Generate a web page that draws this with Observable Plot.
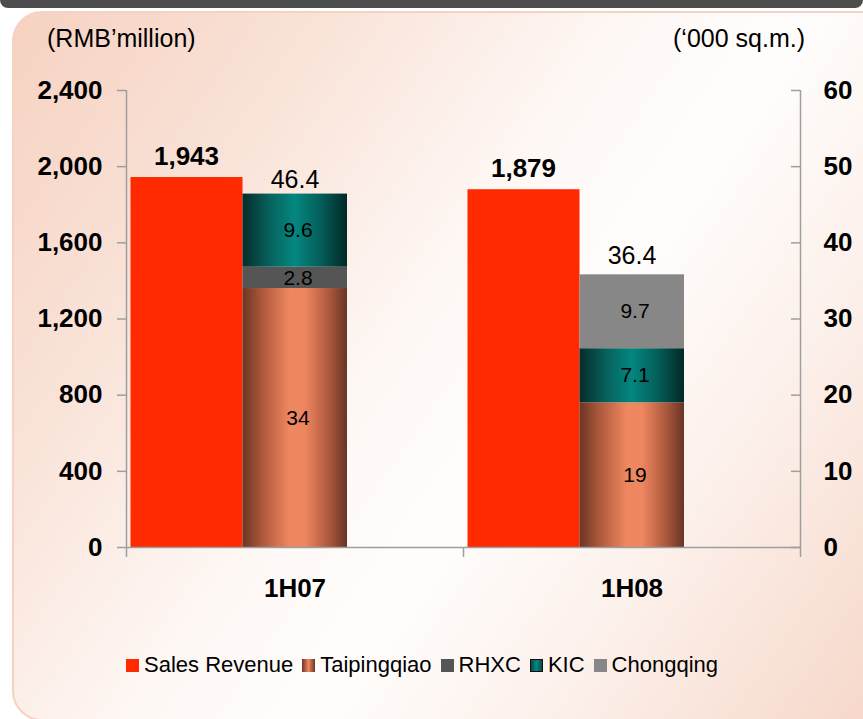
<!DOCTYPE html>
<html>
<head>
<meta charset="utf-8">
<script src="https://cdn.jsdelivr.net/npm/d3@7"></script>
<script src="https://cdn.jsdelivr.net/npm/@observablehq/plot@0.6"></script>
<style>
  html, body { margin: 0; padding: 0; background: #ffffff; }
  body { width: 863px; height: 719px; overflow: hidden; position: relative; font-family: "Liberation Sans", Arial, sans-serif; }
  #topbar { position: absolute; left: 0; top: 0; width: 863px; height: 8px; background: #4d4d4d; border-radius: 0 0 9px 9px; }
  #panel { position: absolute; left: 12px; top: 11px; width: 880px; height: 706px; border: 2px solid #f6d2c3; border-radius: 30px;
    background: linear-gradient(125deg, #f6d2c1 0%, #f9e2d7 22%, #fef8f5 45%, #fffdfc 58%, #fcf0ea 75%, #f6d6c8 100%); }
  .title { position: absolute; top: 23px; font-size: 25px; line-height: 30px; color: #000; }
  #chart { position: absolute; left: 0; top: 60px; }
  #legend { position: absolute; left: 126px; top: 653px; display: flex; align-items: center; font-size: 22px; line-height: 24px; color: #000; white-space: nowrap; }
  #legend .item { display: flex; align-items: center; margin-right: 9px; }
  #legend .sw { width: 13px; height: 13px; margin-right: 5px; box-sizing: border-box; }
</style>
</head>
<body>
<div id="topbar"></div>
<div id="panel"></div>
<div class="title" style="left:47px">(RMB’million)</div>
<div class="title" style="right:58px">(‘000 sq.m.)</div>
<div id="chart"></div>
<div id="legend"></div>
<script>
// ---- data ----
const periods = ["1H07", "1H08"];
const salesRevenue = [1943, 1879];            // RMB million (left axis)
const regions = ["Taipingqiao", "RHXC", "KIC", "Chongqing"];
const taipingqiao = [34, 19];                 // '000 sq.m. (right axis)
const rhxc = [2.8, 0];
const kic = [9.6, 7.1];
const chongqing = [0, 9.7];
const areaTotals = [46.4, 36.4];
const leftTicks = [0, 400, 800, 1200, 1600, 2000, 2400];
const rightTicks = [0, 10, 20, 30, 40, 50, 60];
const legendLabels = ["Sales Revenue", "Taipingqiao", "RHXC", "KIC", "Chongqing"];

// ---- styles ----
const W = 863, H = 570, mL = 126, mR = 63, mT = 30, mB = 83;
const bw = (W - mL - mR) / periods.length;
const ratio = leftTicks[leftTicks.length - 1] / rightTicks[rightTicks.length - 1];
const revColor = "#ff2a00";
const regionFill = {Taipingqiao: "url(#grad-tpq)", RHXC: "#555555", KIC: "url(#grad-kic)", Chongqing: "#878787"};
const regionValues = {Taipingqiao: taipingqiao, RHXC: rhxc, KIC: kic, Chongqing: chongqing};
const axisGray = "#9e9e9e";
const font = "Liberation Sans, Arial, sans-serif";

const rows = [];
periods.forEach((p, i) => regions.forEach(r => {
  const v = regionValues[r][i];
  if (v > 0) rows.push({period: p, region: r, value: v});
}));

const chart = Plot.plot({
  width: W, height: H,
  marginLeft: mL, marginRight: mR, marginTop: mT, marginBottom: mB,
  style: {background: "transparent", fontFamily: font, overflow: "visible"},
  x: {domain: periods, padding: 0, axis: null},
  y: {domain: [0, 2400], axis: null},
  color: {type: "identity"},
  marks: [
    // sales revenue bars
    Plot.barY(periods, {x: d => d, y: (d, i) => salesRevenue[i], fill: revColor, insetLeft: 4.5, insetRight: bw - 116.5}),
    // stacked area bars
    Plot.barY(rows, Plot.stackY({x: "period", y: d => d.value * ratio, z: "region", order: regions,
      fill: d => regionFill[d.region], insetLeft: 116.5, insetRight: 116})),
    Plot.text(rows, Plot.stackY({x: "period", y: d => d.value * ratio, z: "region", order: regions,
      text: d => String(d.value), fontSize: 21, fill: "#000", dx: 3})),
    // totals
    Plot.text(periods, {x: d => d, y: (d, i) => areaTotals[i] * ratio, text: (d, i) => areaTotals[i].toFixed(1),
      lineAnchor: "bottom", dy: -6, fontSize: 25, fill: "#000"}),
    // revenue labels
    Plot.text(periods, {x: d => d, y: (d, i) => salesRevenue[i], text: (d, i) => d3.format(",")(salesRevenue[i]),
      lineAnchor: "bottom", dx: -108.5, dy: -13, fontSize: 26, fontWeight: "bold", fill: "#000"}),
    // axis lines
    Plot.ruleY([0], {stroke: axisGray, strokeWidth: 1.5}),
    Plot.ruleX([periods[0]], {x: d => d, dx: -bw / 2, y1: 0, y2: 2400, stroke: axisGray, strokeWidth: 1.5}),
    Plot.ruleX([periods[periods.length - 1]], {x: d => d, dx: bw / 2, y1: 0, y2: 2400, stroke: axisGray, strokeWidth: 1.5}),
    // left axis
    Plot.axisY(leftTicks, {anchor: "left", tickSize: 9, tickFormat: () => "", stroke: axisGray, strokeWidth: 1.5, label: null}),
    Plot.axisY(leftTicks, {anchor: "left", tickSize: 0, tickPadding: 24, tickFormat: d3.format(","), fontSize: 26, fontWeight: "bold", fill: "#000", label: null}),
    // right axis (ticks point inward)
    Plot.axisY(leftTicks, {anchor: "left", tickSize: 9, tickFormat: () => "", dx: bw * periods.length, stroke: axisGray, strokeWidth: 1.5, label: null}),
    Plot.axisY(leftTicks, {anchor: "right", tickSize: 0, tickPadding: 23, tickFormat: d => String(d / ratio), textAnchor: "start", fontSize: 26, fontWeight: "bold", fill: "#000", label: null}),
    // category axis
    Plot.axisX(periods, {anchor: "bottom", tickSize: 10, dx: -bw / 2, tickFormat: () => "", stroke: axisGray, strokeWidth: 1.5, label: null}),
    Plot.axisX([periods[periods.length - 1]], {anchor: "bottom", tickSize: 10, dx: bw / 2, tickFormat: () => "", stroke: axisGray, strokeWidth: 1.5, label: null}),
    Plot.axisX(periods, {anchor: "bottom", tickSize: 0, tickPadding: 31, fontSize: 26, fontWeight: "bold", fill: "#000", label: null})
  ]
});

// gradients for the textured bars
const defs = d3.select(chart).insert("defs", ":first-child");
function addGrad(id, stops) {
  const g = defs.append("linearGradient").attr("id", id).attr("x1", 0).attr("x2", 1).attr("y1", 0).attr("y2", 0);
  stops.forEach(([o, c]) => g.append("stop").attr("offset", o).attr("stop-color", c));
}
addGrad("grad-tpq", [[0, "#6c3526"], [0.2, "#b05a3c"], [0.45, "#ef8760"], [0.6, "#ee8660"], [0.82, "#ae5a3d"], [1, "#693426"]]);
addGrad("grad-kic", [[0, "#052c2a"], [0.25, "#08605c"], [0.5, "#03877f"], [0.75, "#045d59"], [1, "#022927"]]);
document.getElementById("chart").appendChild(chart);

// legend
const swatchCss = {
  "Sales Revenue": `background:${revColor}`,
  "Taipingqiao": "background:linear-gradient(to right,#6c3526,#ef8760 50%,#693426)",
  "RHXC": "background:#555555",
  "KIC": "background:linear-gradient(to right,#0a4a47,#03877f 50%,#0a4a47);border:1.5px solid #111",
  "Chongqing": "background:#878787"
};
const legend = d3.select("#legend");
legendLabels.forEach(l => {
  const it = legend.append("div").attr("class", "item");
  it.append("div").attr("class", "sw").attr("style", swatchCss[l]);
  it.append("span").text(l);
});
</script>
</body>
</html>
